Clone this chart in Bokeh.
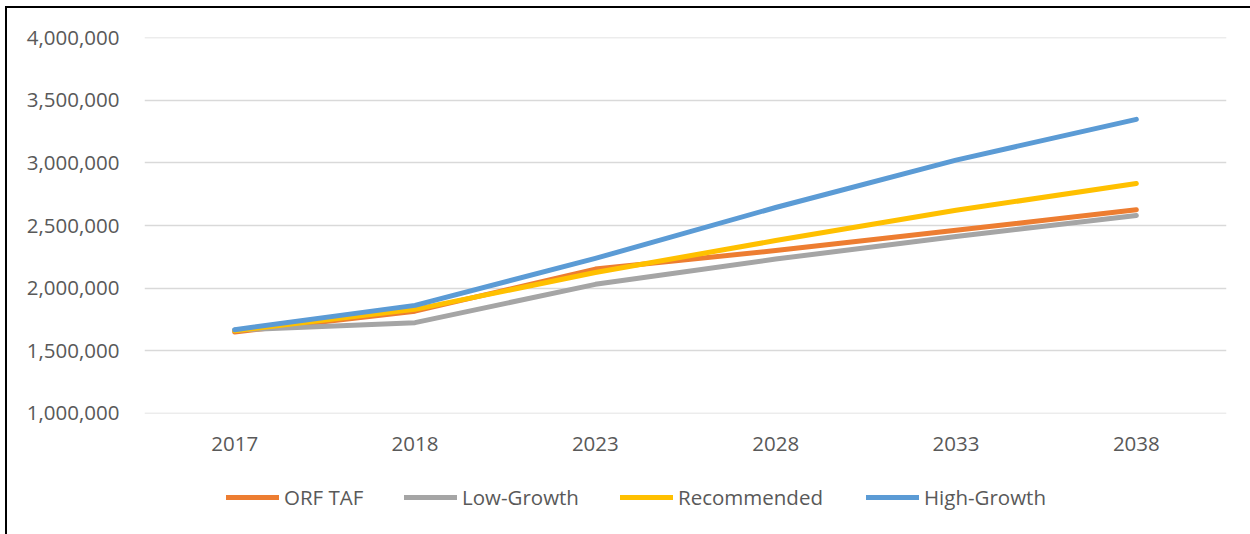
from bokeh.plotting import figure
from bokeh.layouts import column
from bokeh.models import (FactorRange, Range1d, FixedTicker, NumeralTickFormatter,
                          Legend, LegendItem)
from bokeh.embed import file_html
from bokeh.resources import INLINE

years = ["2017", "2018", "2023", "2028", "2033", "2038"]
orf_taf = [1650000, 1816000, 2152000, 2300000, 2462000, 2625000]
low_growth = [1665000, 1724000, 2030000, 2232000, 2412000, 2580000]
recommended = [1660000, 1830000, 2125000, 2380000, 2622000, 2835000]
high_growth = [1668000, 1862000, 2237000, 2644000, 3022000, 3348000]
series_names = ["ORF TAF", "Low-Growth", "Recommended", "High-Growth"]
y_ticks = [1000000, 1500000, 2000000, 2500000, 3000000, 3500000, 4000000]

colors = ["#ED7D31", "#A5A5A5", "#FFC000", "#5B9BD5"]
legend_x = [82, 260, 476, 722]
FONT = "Open Sans"
TXT = "#595959"
W = 1243

p = figure(width=W, height=462, x_range=FactorRange(*years, range_padding=0),
           y_range=Range1d(998500, 4001500), output_backend="svg",
           toolbar_location=None, min_border_left=137, min_border_right=24,
           min_border_top=29, min_border_bottom=57)
p.outline_line_color = None

for vals, c in zip([orf_taf, low_growth, recommended, high_growth], colors):
    p.line(years, vals, line_color=c, line_width=5, line_cap="round", line_join="round")

p.yaxis.ticker = FixedTicker(ticks=y_ticks)
p.yaxis.formatter = NumeralTickFormatter(format="0,0")
p.yaxis.axis_line_color = None
p.yaxis.major_tick_line_color = None
p.yaxis.minor_tick_line_color = None
p.yaxis.major_label_standoff = 19
p.xaxis.axis_line_color = None
p.xaxis.major_tick_line_color = None
p.xaxis.major_label_standoff = 17
for ax in (p.xaxis, p.yaxis):
    ax.major_label_text_font = FONT
    ax.major_label_text_font_size = "20.5px"
    ax.major_label_text_color = TXT

p.xgrid.grid_line_color = None
p.ygrid.grid_line_color = "#D9D9D9"
p.ygrid.grid_line_width = 1.5
p.ygrid.ticker = FixedTicker(ticks=y_ticks)

# legend strip (its frame is aligned with the main plot's frame)
pl = figure(width=W, height=64, x_range=Range1d(0, 1), y_range=Range1d(0, 1),
            output_backend="svg", toolbar_location=None,
            x_axis_location=None, y_axis_location=None,
            min_border_left=0, min_border_right=0, min_border_top=0, min_border_bottom=0)
pl.outline_line_color = None
pl.grid.grid_line_color = None
for n, c, lx in zip(series_names, colors, legend_x):
    r = pl.line([5, 6], [5, 6], line_color=c, line_width=5, line_cap="round")
    lg = Legend(items=[LegendItem(label=n, renderers=[r])],
                orientation="horizontal", location=(lx, 23), padding=0, margin=0,
                border_line_color=None, background_fill_alpha=0,
                glyph_width=53, glyph_height=22, label_standoff=5, spacing=0,
                label_text_font=FONT, label_text_font_size="20.5px", label_text_color=TXT)
    pl.add_layout(lg, "center")

layout = column(p, pl, spacing=0,
                styles={"border-left": "2px solid #000", "border-top": "2px solid #000",
                        "margin-left": "5px", "margin-top": "6px"})

open("out.html", "w").write(file_html(layout, INLINE))
